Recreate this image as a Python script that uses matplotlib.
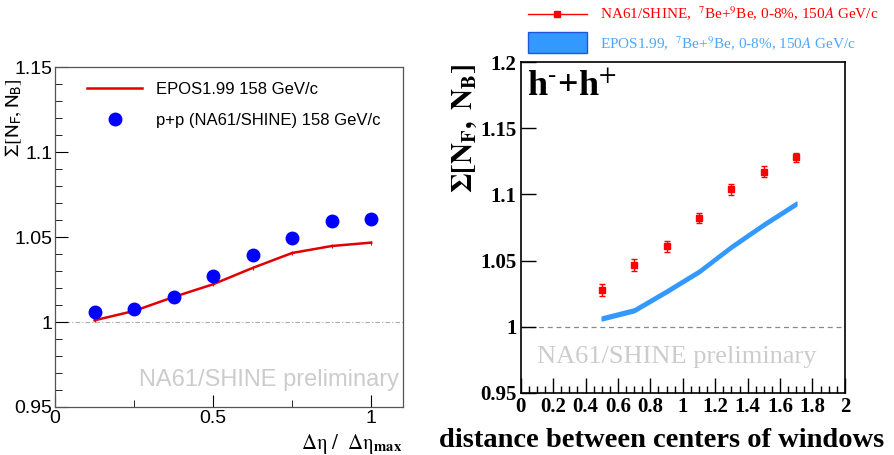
import matplotlib.pyplot as plt
import numpy as np
from matplotlib.patches import Rectangle
from matplotlib.lines import Line2D

# left panel: p+p 158 GeV/c vs EPOS
eta_frac = [0.125, 0.25, 0.375, 0.5, 0.625, 0.75, 0.875, 1.0]
pp_data = [1.0061, 1.0075, 1.0149, 1.0269, 1.0396, 1.0496, 1.0592, 1.0606]
pp_epos = [1.0010, 1.0065, 1.0147, 1.0222, 1.0318, 1.0406, 1.0447, 1.0467]

# right panel: Be+Be 150A GeV/c
dist = [0.5, 0.7, 0.9, 1.1, 1.3, 1.5, 1.7]
bebe_data = [1.0278, 1.0470, 1.0608, 1.0823, 1.1038, 1.1173, 1.1280]
bebe_err = [0.0045, 0.0045, 0.004, 0.004, 0.004, 0.0045, 0.0035]
bebe_epos = [1.0063, 1.0125, 1.0268, 1.0418, 1.0605, 1.0773, 1.0930]
epos_halfwidth = 0.0014

sans = 'Liberation Sans'
serif = 'Liberation Serif'

fig = plt.figure(figsize=(8.95, 4.55), dpi=100)

# ---------------- left panel ----------------
ax1 = fig.add_axes([0.0615, 0.1055, 0.3885, 0.7472])
ax1.set_xlim(0, 1.1)
ax1.set_ylim(0.95, 1.15)
ax1.axhline(1.0, color='#aaaaaa', lw=0.8, ls=(0, (4, 2, 1, 2)), zorder=1)
ax1.plot(eta_frac, pp_epos, color='#e00000', lw=1.8, marker='|', ms=3, mew=0.8, zorder=2)
ax1.plot(eta_frac, pp_data, 'o', color='#0000ff', ms=9, zorder=3)

ax1.set_xticks([0, 0.5, 1])
ax1.set_xticklabels(['0', '0.5', '1'])
ax1.set_xticks([0.25, 0.75], minor=True)
ax1.set_yticks([0.95, 1.0, 1.05, 1.1, 1.15])
ax1.set_yticklabels(['0.95', '1', '1.05', '1.1', '1.15'])
ax1.set_yticks(np.arange(0.95, 1.1501, 0.01), minor=True)
ax1.tick_params(which='both', direction='in', top=False, right=False, pad=2)
ax1.tick_params(which='major', length=9)
ax1.tick_params(which='minor', length=5)
for lbl in ax1.get_xticklabels() + ax1.get_yticklabels():
    lbl.set_fontfamily(sans)
    lbl.set_fontsize(14)
for sp in ax1.spines.values():
    sp.set_color('#555555')
    sp.set_linewidth(0.9)

ax1.set_ylabel(r'$\Sigma[\mathrm{N_F,N_B}]$', fontsize=14.5, math_fontfamily='stixsans')
ax1.yaxis.set_label_coords(-0.088, 0.85)
ax1.text(1.0, -0.075, r'$\mathrm{\Delta\eta}\ /\ \ \mathrm{\Delta\eta}_{\mathbf{max}}$',
         transform=ax1.transAxes, ha='right', va='top', fontsize=15, math_fontfamily='stix')

leg1 = ax1.legend(handles=[Line2D([], [], color='#e00000', lw=1.8),
                           Line2D([], [], ls='', marker='o', color='#0000ff', ms=9)],
                  labels=['EPOS1.99 158 GeV/c', 'p+p (NA61/SHINE) 158 GeV/c'],
                  loc='upper left', bbox_to_anchor=(0.05, 1.0), frameon=False,
                  prop={'family': sans, 'size': 12}, handlelength=3.3,
                  handletextpad=0.8, labelspacing=0.95)

ax1.text(0.99, 0.08, 'NA61/SHINE preliminary', transform=ax1.transAxes,
         ha='right', va='center', fontsize=17, color='#cccccc', fontfamily=sans)

# ---------------- right panel ----------------
ax2 = fig.add_axes([0.5818, 0.1363, 0.3622, 0.7274])
ax2.set_xlim(0, 2)
ax2.set_ylim(0.95, 1.2)
ax2.axhline(1.0, color='#888888', lw=0.9, ls=(0, (4, 3)), zorder=1)
lo = [v - epos_halfwidth for v in bebe_epos]
hi = [v + epos_halfwidth for v in bebe_epos]
ax2.fill_between(dist, lo, hi, color='#3399ff', lw=1.2, edgecolor='#3399ff', zorder=2)
ax2.errorbar(dist, bebe_data, yerr=bebe_err, fmt='s', color='#ff0000', ms=4.5,
             elinewidth=1.0, capsize=2, capthick=1.0, zorder=3)

ax2.set_xticks(np.arange(0, 2.01, 0.2))
ax2.set_xticklabels(['0', '0.2', '0.4', '0.6', '0.8', '1', '1.2', '1.4', '1.6', '1.8', '2'])
ax2.set_xticks(np.arange(0, 2.001, 0.05), minor=True)
ax2.set_yticks([0.95, 1.0, 1.05, 1.1, 1.15, 1.2])
ax2.set_yticklabels(['0.95', '1', '1.05', '1.1', '1.15', '1.2'])
ax2.tick_params(which='both', direction='in', top=False, right=False, pad=3)
ax2.tick_params(which='major', length=11, width=1.0)
ax2.tick_params(which='minor', length=5, width=1.0)
for lbl in ax2.get_xticklabels() + ax2.get_yticklabels():
    lbl.set_fontfamily(serif)
    lbl.set_fontweight('bold')
    lbl.set_fontsize(15)
for sp in ax2.spines.values():
    sp.set_linewidth(1.2)

ax2.set_ylabel(r'$\mathbf{\Sigma[N_F,\ N_B]}$', fontsize=21, math_fontfamily='stix')
ax2.yaxis.set_label_coords(-0.13, 0.8)
ax2.set_xlabel('distance between centers of windows', fontfamily=serif, fontweight='bold',
               fontsize=20.5)
ax2.xaxis.set_label_coords(0.436, -0.105)

ax2.text(0.02, 0.975, r'h$^{\text{-}}$+h$^{+}$', transform=ax2.transAxes, ha='left',
         va='top', fontsize=26, fontweight='bold', fontfamily=serif, math_fontfamily='stix')
ax2.text(0.05, 0.11, 'NA61/SHINE preliminary', transform=ax2.transAxes, ha='left',
         va='center', fontsize=19, color='#cccccc', fontfamily=serif)

# legend above the right panel
fig.add_artist(Line2D([528 / 895, 587 / 895], [1 - 14 / 455] * 2, color='#ff0000', lw=1.0))
fig.add_artist(Line2D([557 / 895], [1 - 14 / 455], marker='s', color='#ff0000', ms=4.5))
fig.add_artist(Rectangle((528 / 895, 1 - 53 / 455), 59 / 895, 21 / 455, facecolor='#3399ff',
                         edgecolor='#2255dd', lw=1.0, transform=fig.transFigure))
fig.text(600 / 895, 1 - 14 / 455, r'NA61/SHINE,  $^{7}$Be+$^{9}$Be, 0-8%, 150$A$ GeV/c',
         color='#ff0000', fontsize=11, fontfamily=serif, va='center', math_fontfamily='stix')
fig.text(600 / 895, 1 - 44 / 455, r'EPOS1.99,  $^{7}$Be+$^{9}$Be, 0-8%, 150$A$ GeV/c',
         color='#4da6ff', fontsize=11, fontfamily=serif, va='center', math_fontfamily='stix')

fig.savefig('out.png', dpi=100)
